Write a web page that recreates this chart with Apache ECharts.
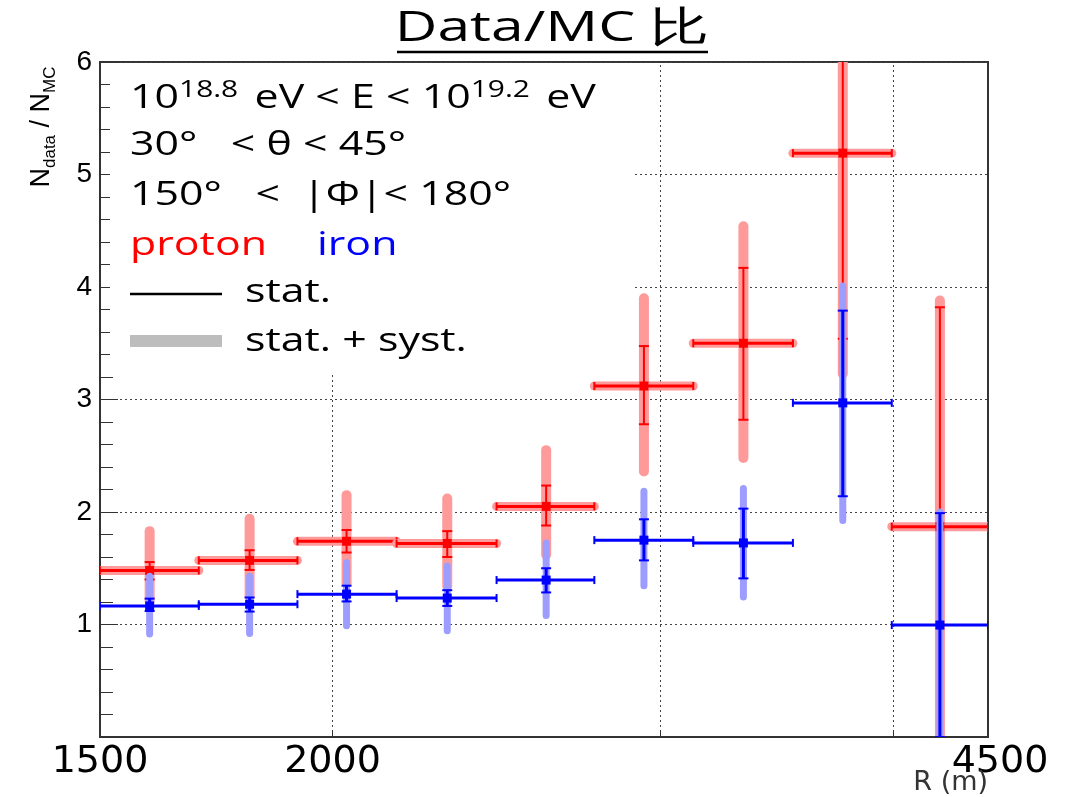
<!DOCTYPE html>
<html><head><meta charset="utf-8">
<script src="https://cdn.jsdelivr.net/npm/echarts@6/dist/echarts.min.js"></script>
<style>html,body{margin:0;padding:0;background:#fff}#c{width:1076px;height:797px}</style>
</head><body><div id="c"></div>
<script>
// Bins in R (m)
const binCenter = [1595, 1805, 2035, 2305, 2605, 2940, 3325, 3760, 4240];
const binLow    = [1500, 1695, 1915, 2165, 2450, 2765, 3125, 3535, 3995];
const binHigh   = [1695, 1915, 2165, 2450, 2765, 3125, 3535, 3995, 4500];

// proton
const protonValue  = [1.48, 1.57, 1.74, 1.72, 2.05, 3.12, 3.50, 5.19, 1.87];
const protonStatLo = [1.40, 1.485, 1.64, 1.60, 1.88, 2.78, 2.82, 3.54, 0];
const protonStatHi = [1.555, 1.66, 1.84, 1.83, 2.235, 3.475, 4.17, 6.5, 3.82];
const protonSystLo = [1.21, 1.25, 1.37, 1.34, 1.62, 2.36, 2.48, 3.23, 0];
const protonSystHi = [1.83, 1.94, 2.15, 2.12, 2.55, 3.90, 4.54, 6.6, 3.88];

// iron
const ironValue  = [1.165, 1.18, 1.27, 1.235, 1.395, 1.75, 1.725, 2.97, 0.995];
const ironStatLo = [1.12, 1.115, 1.205, 1.165, 1.285, 1.57, 1.41, 2.14, 0];
const ironStatHi = [1.23, 1.24, 1.345, 1.305, 1.50, 1.935, 2.03, 3.79, 1.99];
const ironSystLo = [0.915, 0.92, 0.99, 0.945, 1.08, 1.345, 1.245, 1.925, 0];
const ironSystHi = [1.43, 1.43, 1.55, 1.52, 1.725, 2.185, 2.21, 4.01, 2.0];

const xTickValues  = [2000, 3000, 4000];
const xLabelValues = [1500, 2000, 4500];

function rows(v, sl, sh, yl, yh) {
  return binCenter.map((c, i) => [c, binLow[i], binHigh[i], v[i], sl[i], sh[i], yl[i], yh[i]]);
}

function makeRender(col, pale, halo, paleW, statW, hW) {
  return function (params, api) {
    const cx = api.value(0), xl = api.value(1), xh = api.value(2), y = api.value(3);
    const pC = api.coord([cx, y]);
    const pL = api.coord([xl, y]), pH = api.coord([xh, y]);
    const sL = api.coord([cx, api.value(4)]), sH = api.coord([cx, api.value(5)]);
    const yL = api.coord([cx, api.value(6)]), yH = api.coord([cx, api.value(7)]);
    const X = pC[0], Y = pC[1];
    const ch = [];
    ch.push({type: 'line', shape: {x1: X, y1: yL[1], x2: X, y2: yH[1]},
      style: {stroke: pale, lineWidth: paleW, lineCap: 'round'}});
    if (halo) ch.push({type: 'line', shape: {x1: pL[0], y1: Y, x2: pH[0], y2: Y},
      style: {stroke: pale, lineWidth: 9, lineCap: 'round'}});
    ch.push({type: 'line', shape: {x1: X, y1: sL[1], x2: X, y2: sH[1]}, style: {stroke: col, lineWidth: statW}});
    ch.push({type: 'line', shape: {x1: X - 5, y1: sL[1], x2: X + 5, y2: sL[1]}, style: {stroke: col, lineWidth: 2}});
    ch.push({type: 'line', shape: {x1: X - 5, y1: sH[1], x2: X + 5, y2: sH[1]}, style: {stroke: col, lineWidth: 2}});
    ch.push({type: 'line', shape: {x1: pL[0], y1: Y, x2: pH[0], y2: Y}, style: {stroke: col, lineWidth: hW}});
    ch.push({type: 'line', shape: {x1: pL[0], y1: Y - 4, x2: pL[0], y2: Y + 4}, style: {stroke: col, lineWidth: 2}});
    ch.push({type: 'line', shape: {x1: pH[0], y1: Y - 4, x2: pH[0], y2: Y + 4}, style: {stroke: col, lineWidth: 2}});
    ch.push({type: 'rect', shape: {x: X - 4.5, y: Y - 4.5, width: 9, height: 9}, style: {fill: col}});
    return {type: 'group', children: ch};
  };
}

const chart = echarts.init(document.getElementById('c'), null, {renderer: 'canvas'});
const txtFont = '"Open Sans", sans-serif';
const SX = 1.3;
const lg = (gx, y, text, fill) => ({type: 'text', z: 10, x: (gx - 130) / SX, y: y,
  style: {text: text, fontFamily: txtFont, fontSize: 33, fill: fill || '#000', verticalAlign: 'middle'}});

const option = {
  animation: false,
  backgroundColor: '#fff',
  grid: {left: 100, right: 88, top: 62, bottom: 60, show: true, borderColor: '#333', borderWidth: 2, backgroundColor: 'transparent'},
  xAxis: {
    type: 'log', logBase: 10, min: 1500, max: 4500,
    axisLine: {show: true, lineStyle: {color: '#333', width: 2}},
    axisTick: {show: true, inside: true, length: 7, customValues: xTickValues, lineStyle: {color: '#333'}},
    minorTick: {show: false},
    axisLabel: {
      show: true, margin: 6, customValues: xLabelValues,
      formatter: v => (Math.round(v) === 4500 ? '{r|4500}' : '{a|' + Math.round(v) + '}'),
      rich: {
        a: {fontFamily: '"DejaVu Sans"', fontSize: 38, color: '#000'},
        r: {fontFamily: '"DejaVu Sans"', fontSize: 38, color: '#000', padding: [0, 0, 0, 24]}
      }
    },
    splitLine: {show: false}
  },
  yAxis: {
    type: 'value', min: 0, max: 6, interval: 1,
    axisLine: {show: true, lineStyle: {color: '#333', width: 2}},
    axisTick: {show: true, inside: true, length: 18, lineStyle: {color: '#333'}},
    minorTick: {show: true, splitNumber: 5, length: 13, lineStyle: {color: '#333'}},
    axisLabel: {margin: 8, fontFamily: '"Liberation Sans", Arial', fontSize: 28, color: '#000',
      formatter: v => (v === 0 ? '' : String(v))},
    splitLine: {show: true, lineStyle: {color: '#444', type: [2, 3], width: 1}}
  },
  series: [
    {
      type: 'line', data: [], silent: true, z: 0,
      markLine: {
        z: 0, silent: true, symbol: 'none', label: {show: false}, animation: false,
        lineStyle: {color: '#444', type: [2, 3], width: 1},
        data: xTickValues.map(v => ({xAxis: v}))
      }
    },
    {
      type: 'custom', name: 'proton', clip: true, z: 5,
      encode: {x: [0, 1, 2], y: [3, 4, 5, 6, 7]},
      renderItem: makeRender('#ff0000', '#ff9a9a', true, 10, 2, 3),
      data: rows(protonValue, protonStatLo, protonStatHi, protonSystLo, protonSystHi)
    },
    {
      type: 'custom', name: 'iron', clip: true, z: 6,
      encode: {x: [0, 1, 2], y: [3, 4, 5, 6, 7]},
      renderItem: makeRender('#0000ff', '#9d9dff', false, 7, 3, 3),
      data: rows(ironValue, ironStatLo, ironStatHi, ironSystLo, ironSystHi)
    }
  ],
  graphic: [
    {type: 'rect', z: 1, shape: {x: 110, y: 64, width: 525, height: 308}, style: {fill: '#fff'}},
    {
      type: 'group', x: 130, y: 0, scaleX: SX, z: 10,
      children: [
        {type: 'text', z: 10, x: 0, y: 99, style: {
          text: '{n|10}{s|18.8}{n| eV < E < 10}{s|19.2}{n| eV}',
          verticalAlign: 'middle',
          rich: {n: {fontFamily: txtFont, fontSize: 33, lineHeight: 40, fill: '#000'},
                 s: {fontFamily: txtFont, fontSize: 23, lineHeight: 22, verticalAlign: 'top', fill: '#000', padding: [0, 4, 0, 0]}}
        }},
        lg(130, 146, '30°   < θ < 45°'),
        lg(130, 196, '150°   <  |Φ|< 180°'),
        lg(130, 246, 'proton', '#ff0000'),
        lg(317, 246, 'iron', '#0000ff'),
        lg(245, 293, 'stat.'),
        lg(245, 342, 'stat. + syst.')
      ]
    },
    {type: 'line', z: 10, shape: {x1: 130, y1: 294, x2: 222, y2: 294}, style: {stroke: '#000', lineWidth: 2.5}},
    {type: 'rect', z: 10, shape: {x: 130, y: 335, width: 92, height: 12}, style: {fill: '#bdbdbd'}},
    {type: 'text', z: 10, x: 552, y: 29, scaleX: 1.4, originX: 0, style: {
      text: 'Data/MC 比', fontFamily: txtFont, fontSize: 42, fill: '#000', align: 'center', verticalAlign: 'middle'}},
    {type: 'line', z: 10, shape: {x1: 397, y1: 52, x2: 708, y2: 52}, style: {stroke: '#000', lineWidth: 2.5}},
    {type: 'text', z: 10, x: 40, y: 127, rotation: Math.PI / 2, style: {
      text: '{n|N}{s|data}{n| / N}{s|MC}', align: 'center', verticalAlign: 'middle',
      rich: {n: {fontFamily: '"Liberation Sans", Arial', fontSize: 27, lineHeight: 30, fill: '#000', verticalAlign: 'bottom'},
             s: {fontFamily: '"Liberation Sans", Arial', fontSize: 17, lineHeight: 17, fill: '#000', verticalAlign: 'bottom', padding: [0, 0, -4, 0]}}
    }},
    {type: 'text', z: 10, x: 988, y: 783, style: {text: 'R (m)', fontFamily: '"DejaVu Sans"', fontSize: 27, fill: '#333', align: 'right', verticalAlign: 'middle'}}
  ]
};
chart.setOption(option);
</script>
</body></html>
